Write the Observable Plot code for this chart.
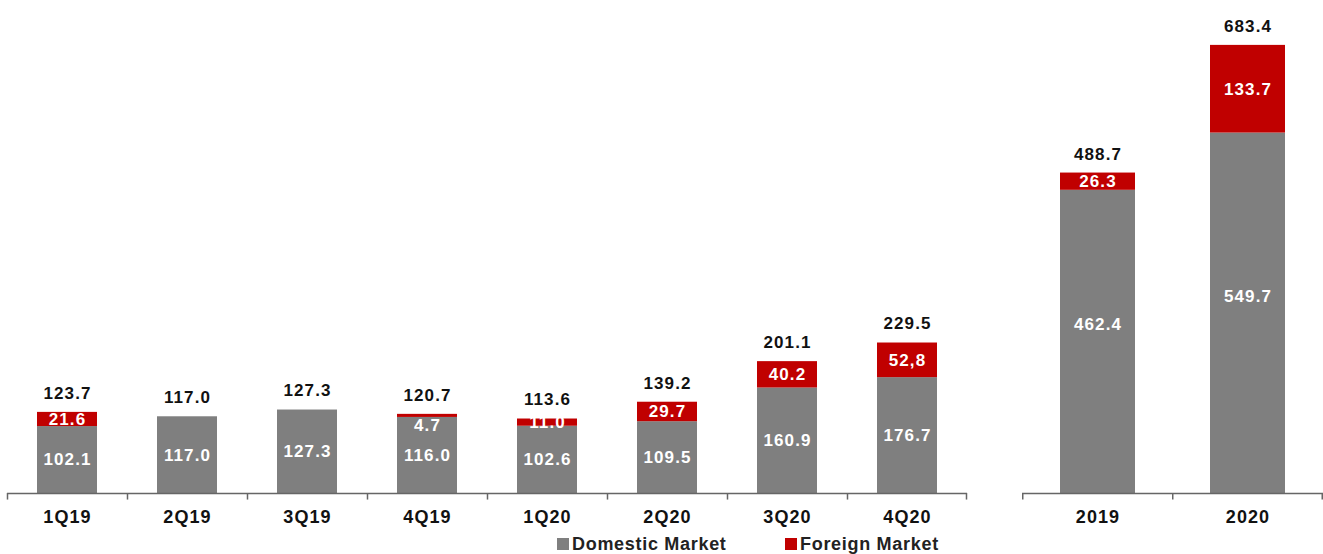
<!DOCTYPE html>
<html>
<head>
<meta charset="utf-8">
<script src="https://cdn.jsdelivr.net/npm/d3@7"></script>
<script src="https://cdn.jsdelivr.net/npm/@observablehq/plot@0.6"></script>
<style>
  html, body { margin: 0; padding: 0; background: #fff; }
  #wrap { position: relative; width: 1323px; height: 554px; overflow: hidden; font-family: "Liberation Sans", Arial, sans-serif; }
  #left, #right { position: absolute; top: 0; }
  #left { left: 0; }
  #right { left: 980px; }
  #legend { position: absolute; top: 533px; left: 0; width: 1323px; height: 22px; font-weight: bold; font-size: 18px; letter-spacing: 0.7px; color: #222; }
  .item { position: absolute; top: 0; display: flex; align-items: center; height: 22px; }
  .sw { width: 12px; height: 12px; margin-right: 3px; }
</style>
</head>
<body>
<div id="wrap">
  <div id="left"></div>
  <div id="right"></div>
  <div id="legend"></div>
</div>
<script>
// ---- data ----
const quarters = ["1Q19", "2Q19", "3Q19", "4Q19", "1Q20", "2Q20", "3Q20", "4Q20"];
const quarterDomestic = [102.1, 117.0, 127.3, 116.0, 102.6, 109.5, 160.9, 176.7];
const quarterForeign = [21.6, 0, 0, 4.7, 11.0, 29.7, 40.2, 52.8];
const quarterForeignLabels = ["21.6", "", "", "4.7", "11.0", "29.7", "40.2", "52,8"];
const quarterTotals = [123.7, 117.0, 127.3, 120.7, 113.6, 139.2, 201.1, 229.5];

const years = ["2019", "2020"];
const yearDomestic = [462.4, 549.7];
const yearForeign = [26.3, 133.7];
const yearForeignLabels = ["26.3", "133.7"];
const yearTotals = [488.7, 683.4];

const series = ["Domestic Market", "Foreign Market"];
const colors = ["#7f7f7f", "#c00000"];

function rows(cats, dom, forg, forgLabels) {
  const out = [];
  cats.forEach((c, i) => out.push({cat: c, market: series[0], value: dom[i], label: dom[i].toFixed(1)}));
  cats.forEach((c, i) => out.push({cat: c, market: series[1], value: forg[i], label: forgLabels[i]}));
  return out;
}

const H = 530, MT = 34, MB = 37;
const yDomain = [0, 700];

function panel(cats, dom, forg, forgLabels, totals, opts) {
  const data = rows(cats, dom, forg, forgLabels);
  const tot = cats.map((c, i) => ({cat: c, total: totals[i]}));
  const step = opts.step;
  const isDom = d => d.market === series[0];
  const isFor = d => d.market === series[1] && d.value >= 8;
  const isThin = d => d.market === series[1] && d.value > 0 && d.value < 8;
  const lbl = (pred) => Plot.stackY({x: "cat", y: "value", z: "market", text: d => pred(d) ? d.label : ""});
  return Plot.plot({
    width: opts.width,
    height: H,
    marginTop: MT,
    marginBottom: MB,
    marginLeft: opts.ml,
    marginRight: opts.mr,
    style: {fontFamily: "Liberation Sans, Arial, sans-serif", fontWeight: "bold", letterSpacing: "1.1px", background: "transparent"},
    x: {domain: cats, paddingInner: 0.5, paddingOuter: 0.25, axis: null},
    y: {domain: yDomain, axis: null},
    color: {domain: series, range: colors},
    marks: [
      Plot.barY(data, {x: "cat", y: "value", fill: "market", z: "market"}),
      Plot.ruleY([0], {stroke: "#666", strokeWidth: 1.5}),
      Plot.ruleX(cats, {x: d => d, dx: -step / 2, y1: 0, y2: -10, stroke: "#666", strokeWidth: 1.5}),
      Plot.ruleX(cats.slice(-1), {x: d => d, dx: step / 2 - 1, y1: 0, y2: -10, stroke: "#666", strokeWidth: 1.5}),
      Plot.axisX({tickSize: 0, tickPadding: 17, fontSize: 18, fill: "#111", fontWeight: "bold", label: null}),
      Plot.text(data, {...lbl(isDom), fill: "white", fontSize: 17, dy: opts.domDy}),
      Plot.text(data, {...lbl(isFor), fill: "white", fontSize: 17}),
      Plot.text(data, {...lbl(isThin), fill: "white", fontSize: 17, dy: 10}),
      Plot.text(tot, {x: "cat", y: "total", text: d => d.total.toFixed(1), dy: -19, fill: "#111", fontSize: 17})
    ]
  });
}

document.getElementById("left").append(
  panel(quarters, quarterDomestic, quarterForeign, quarterForeignLabels, quarterTotals,
    {width: 980, ml: 7, mr: 13, step: 120, domDy: 0})
);
document.getElementById("right").append(
  panel(years, yearDomestic, yearForeign, yearForeignLabels, yearTotals,
    {width: 343, ml: 42, mr: 0, step: 150.5, domDy: -17})
);

// legend
const legend = document.getElementById("legend");
const legendPos = [557, 785];
series.forEach((s, i) => {
  const it = document.createElement("div");
  it.className = "item";
  it.style.left = legendPos[i] + "px";
  const sw = document.createElement("div");
  sw.className = "sw";
  sw.style.background = colors[i];
  const tx = document.createElement("span");
  tx.textContent = s;
  it.append(sw, tx);
  legend.append(it);
});
</script>
</body>
</html>
